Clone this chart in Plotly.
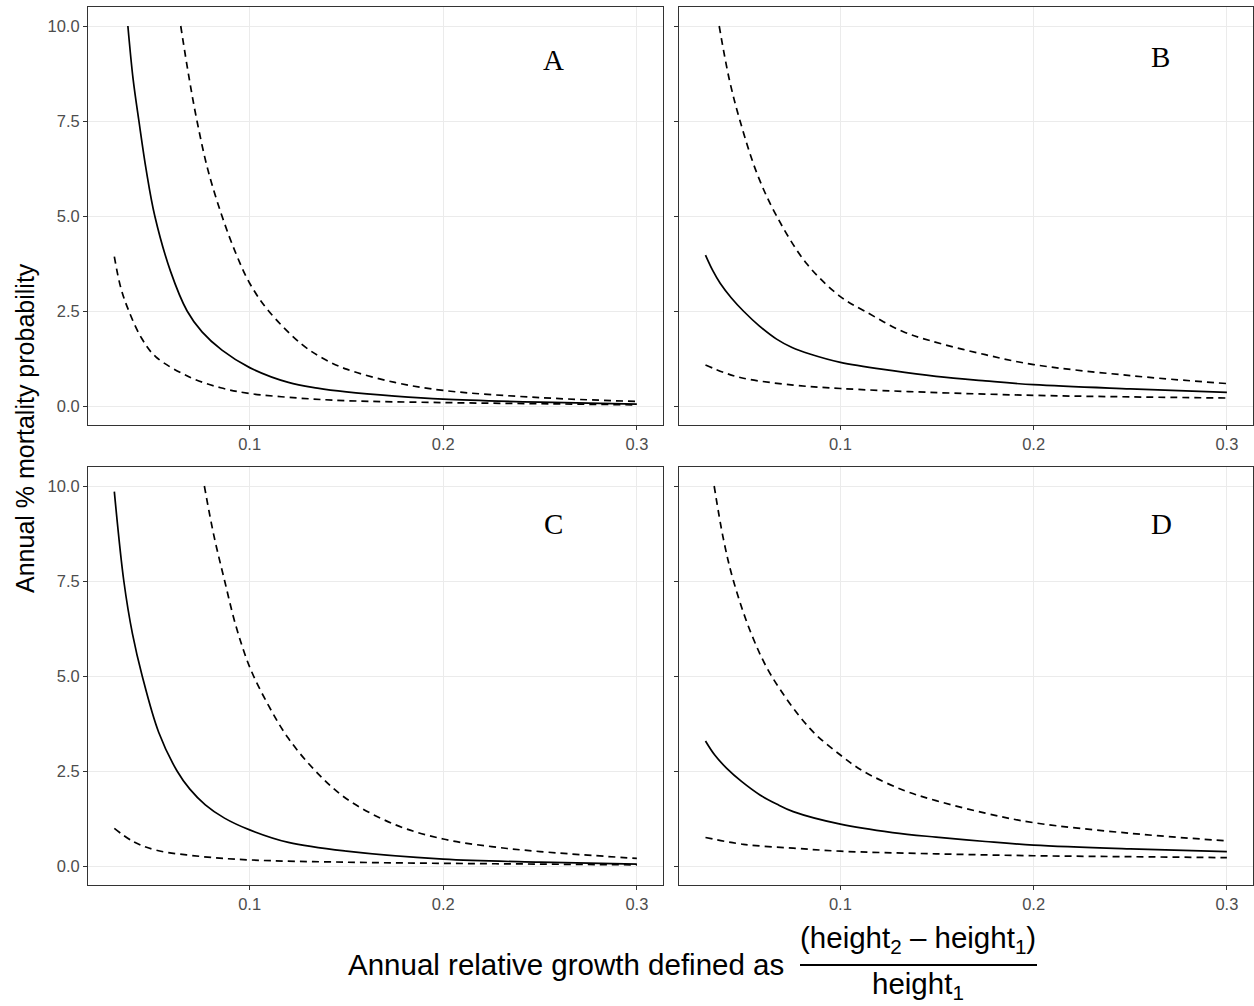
import plotly.graph_objects as go
from plotly.subplots import make_subplots

# ---------------- data ----------------
# Panel A
A_solid_x = [0.0371, 0.0398, 0.0428, 0.0466, 0.0510, 0.0591, 0.0677, 0.0754, 0.0857, 0.100, 0.120, 0.135, 0.150, 0.175, 0.200, 0.250, 0.300]
A_solid_y = [10.0, 8.6, 7.5, 6.2, 5.0, 3.55, 2.5, 1.95, 1.47, 1.01, 0.62, 0.47, 0.37, 0.26, 0.18, 0.10, 0.05]
A_upper_x = [0.0644, 0.0685, 0.0728, 0.0785, 0.0857, 0.093, 0.100, 0.1098, 0.127, 0.138, 0.150, 0.175, 0.200, 0.250, 0.300]
A_upper_y = [10.0, 8.7, 7.5, 6.2, 5.0, 4.0, 3.23, 2.5, 1.62, 1.25, 0.97, 0.62, 0.41, 0.22, 0.12]
A_lower_x = [0.0301, 0.0335, 0.0376, 0.0440, 0.0514, 0.0686, 0.085, 0.100, 0.125, 0.150, 0.200, 0.250, 0.300]
A_lower_y = [3.93, 3.1, 2.5, 1.8, 1.30, 0.77, 0.48, 0.33, 0.21, 0.14, 0.09, 0.06, 0.03]

# Panel B
B_solid_x = [0.0302, 0.034, 0.0378, 0.0435, 0.0498, 0.058, 0.067, 0.075, 0.0842, 0.100, 0.127, 0.1495, 0.175, 0.200, 0.250, 0.300]
B_solid_y = [3.97, 3.56, 3.23, 2.85, 2.5, 2.11, 1.76, 1.54, 1.37, 1.15, 0.93, 0.78, 0.66, 0.56, 0.45, 0.36]
B_upper_x = [0.0373, 0.0425, 0.0481, 0.057, 0.067, 0.0825, 0.100, 0.1125, 0.1323, 0.1464, 0.175, 0.200, 0.250, 0.300]
B_upper_y = [10.0, 8.6, 7.5, 6.1, 5.0, 3.75, 2.88, 2.5, 1.96, 1.72, 1.35, 1.09, 0.80, 0.59]
B_lower_x = [0.0302, 0.0398, 0.0498, 0.0756, 0.100, 0.146, 0.200, 0.250, 0.300]
B_lower_y = [1.08, 0.88, 0.73, 0.55, 0.46, 0.36, 0.28, 0.24, 0.21]

# Panel C
C_solid_x = [0.0301, 0.035, 0.0395, 0.0445, 0.053, 0.0625, 0.069, 0.0771, 0.087, 0.100, 0.120, 0.150, 0.200, 0.250, 0.300]
C_solid_y = [9.85, 7.5, 6.1, 5.0, 3.52, 2.5, 2.03, 1.61, 1.26, 0.95, 0.62, 0.39, 0.18, 0.10, 0.05]
C_upper_x = [0.0766, 0.0815, 0.0871, 0.093, 0.1003, 0.110, 0.120, 0.134, 0.150, 0.175, 0.200, 0.225, 0.250, 0.300]
C_upper_y = [10.0, 8.7, 7.5, 6.3, 5.2, 4.2, 3.36, 2.5, 1.77, 1.09, 0.71, 0.51, 0.38, 0.20]
C_lower_x = [0.0301, 0.040, 0.0514, 0.075, 0.100, 0.150, 0.200, 0.250, 0.300]
C_lower_y = [0.99, 0.64, 0.42, 0.25, 0.16, 0.10, 0.07, 0.05, 0.03]

# Panel D
D_solid_x = [0.0302, 0.035, 0.0412, 0.049, 0.0584, 0.067, 0.0756, 0.100, 0.127, 0.1495, 0.175, 0.200, 0.250, 0.300]
D_solid_y = [3.29, 2.92, 2.57, 2.22, 1.87, 1.63, 1.43, 1.10, 0.88, 0.76, 0.645, 0.55, 0.45, 0.38]
D_upper_x = [0.0347, 0.0395, 0.0447, 0.054, 0.0644, 0.0842, 0.100, 0.1117, 0.1323, 0.1495, 0.175, 0.200, 0.250, 0.300]
D_upper_y = [10.0, 8.6, 7.5, 6.1, 5.0, 3.62, 2.92, 2.5, 2.0, 1.72, 1.39, 1.14, 0.86, 0.66]
D_lower_x = [0.0302, 0.0498, 0.0756, 0.100, 0.1495, 0.200, 0.250, 0.300]
D_lower_y = [0.75, 0.57, 0.47, 0.39, 0.32, 0.27, 0.245, 0.22]

panel_labels = ["A", "B", "C", "D"]
x_ticks = [0.1, 0.2, 0.3]
x_tick_text = ["0.1", "0.2", "0.3"]
y_ticks = [0.0, 2.5, 5.0, 7.5, 10.0]
y_tick_text = ["0.0", "2.5", "5.0", "7.5", "10.0"]

y_title = "Annual % mortality probability"
x_title = "Annual relative growth defined as"
x_title_num = "(height<sub>2</sub> – height<sub>1</sub>)"
x_title_den = "height<sub>1</sub>"

# ---------------- figure ----------------
W, H = 1254, 1006
ML, MR, MT, MB = 88, 1, 7, 121
PW = W - ML - MR
PH = H - MT - MB

def px_x(p):
    return (p - ML) / PW

def px_y(p):
    return (H - MB - p) / PH

fig = make_subplots(rows=2, cols=2)

panels = [
    (1, 1, A_solid_x, A_solid_y, A_upper_x, A_upper_y, A_lower_x, A_lower_y),
    (1, 2, B_solid_x, B_solid_y, B_upper_x, B_upper_y, B_lower_x, B_lower_y),
    (2, 1, C_solid_x, C_solid_y, C_upper_x, C_upper_y, C_lower_x, C_lower_y),
    (2, 2, D_solid_x, D_solid_y, D_upper_x, D_upper_y, D_lower_x, D_lower_y),
]

LW = 1.7
DASH = "7px,5px"
SM = 1.0
for (r, c, sx, sy, ux, uy, lx, ly) in panels:
    fig.add_trace(go.Scatter(x=ux, y=uy, mode="lines",
                             line=dict(color="black", width=LW, dash=DASH, shape="spline", smoothing=SM),
                             showlegend=False, hoverinfo="skip"), row=r, col=c)
    fig.add_trace(go.Scatter(x=lx, y=ly, mode="lines",
                             line=dict(color="black", width=LW, dash=DASH, shape="spline", smoothing=SM),
                             showlegend=False, hoverinfo="skip"), row=r, col=c)
    fig.add_trace(go.Scatter(x=sx, y=sy, mode="lines",
                             line=dict(color="black", width=LW, shape="spline", smoothing=SM),
                             showlegend=False, hoverinfo="skip"), row=r, col=c)

# domains (pixel-based)
left_dom = [px_x(88), px_x(663)]
right_dom = [px_x(679), px_x(1253)]
top_dom = [px_y(425), px_y(7)]
bot_dom = [px_y(885), px_y(467)]

axis_common = dict(
    showline=True, mirror=True, linecolor="#333333", linewidth=1.1,
    showgrid=True, gridcolor="#EBEBEB", gridwidth=1.3,
    zeroline=False, ticks="outside", ticklen=4, tickcolor="#333333", tickwidth=1.1,
    tickfont=dict(family="Liberation Sans, Arial, sans-serif", size=16.5, color="#4D4D4D"),
)

doms = {1: (left_dom, top_dom), 2: (right_dom, top_dom), 3: (left_dom, bot_dom), 4: (right_dom, bot_dom)}
for i in range(1, 5):
    xd, yd = doms[i]
    xk = "xaxis" if i == 1 else f"xaxis{i}"
    yk = "yaxis" if i == 1 else f"yaxis{i}"
    fig.layout[xk].update(domain=xd, range=[0.0165, 0.3135], tickvals=x_ticks, ticktext=x_tick_text, **axis_common)
    fig.layout[yk].update(domain=yd, range=[-0.5, 10.5], tickvals=y_ticks, ticktext=y_tick_text,
                          showticklabels=(i in (1, 3)), **axis_common)

# panel letters
letter_pos = [(0.257, 9.11), (0.2655, 9.19), (0.257, 9.0), (0.266, 9.0)]
for i, (lab, (lx_, ly_)) in enumerate(zip(panel_labels, letter_pos)):
    sfx = "" if i == 0 else str(i + 1)
    fig.add_annotation(x=lx_, y=ly_, xref="x" + sfx, yref="y" + sfx, text=lab, showarrow=False,
                       font=dict(family="Liberation Serif, Times New Roman, serif", size=29, color="black"),
                       xanchor="center", yanchor="middle")

# y title
fig.add_annotation(x=px_x(25), y=px_y(428), xref="paper", yref="paper", text=y_title, textangle=-90,
                   showarrow=False, xanchor="center", yanchor="middle",
                   font=dict(family="Liberation Sans, Arial, sans-serif", size=25, color="black"))

# x title with fraction
tfont = dict(family="Liberation Sans, Arial, sans-serif", size=29.5, color="black")
fig.add_annotation(x=px_x(786), y=px_y(964), xref="paper", yref="paper", text=x_title,
                   showarrow=False, xanchor="right", yanchor="middle", font=tfont)
fig.add_annotation(x=px_x(918), y=px_y(939), xref="paper", yref="paper", text=x_title_num,
                   showarrow=False, xanchor="center", yanchor="middle", font=tfont)
fig.add_annotation(x=px_x(918), y=px_y(985), xref="paper", yref="paper", text=x_title_den,
                   showarrow=False, xanchor="center", yanchor="middle", font=tfont)
fig.add_shape(type="line", xref="paper", yref="paper", x0=px_x(800), x1=px_x(1037),
              y0=px_y(965), y1=px_y(965), line=dict(color="black", width=2))

fig.update_layout(width=W, height=H, margin=dict(l=ML, r=MR, t=MT, b=MB),
                  paper_bgcolor="white", plot_bgcolor="white", showlegend=False)

fig.write_html("out.html")
